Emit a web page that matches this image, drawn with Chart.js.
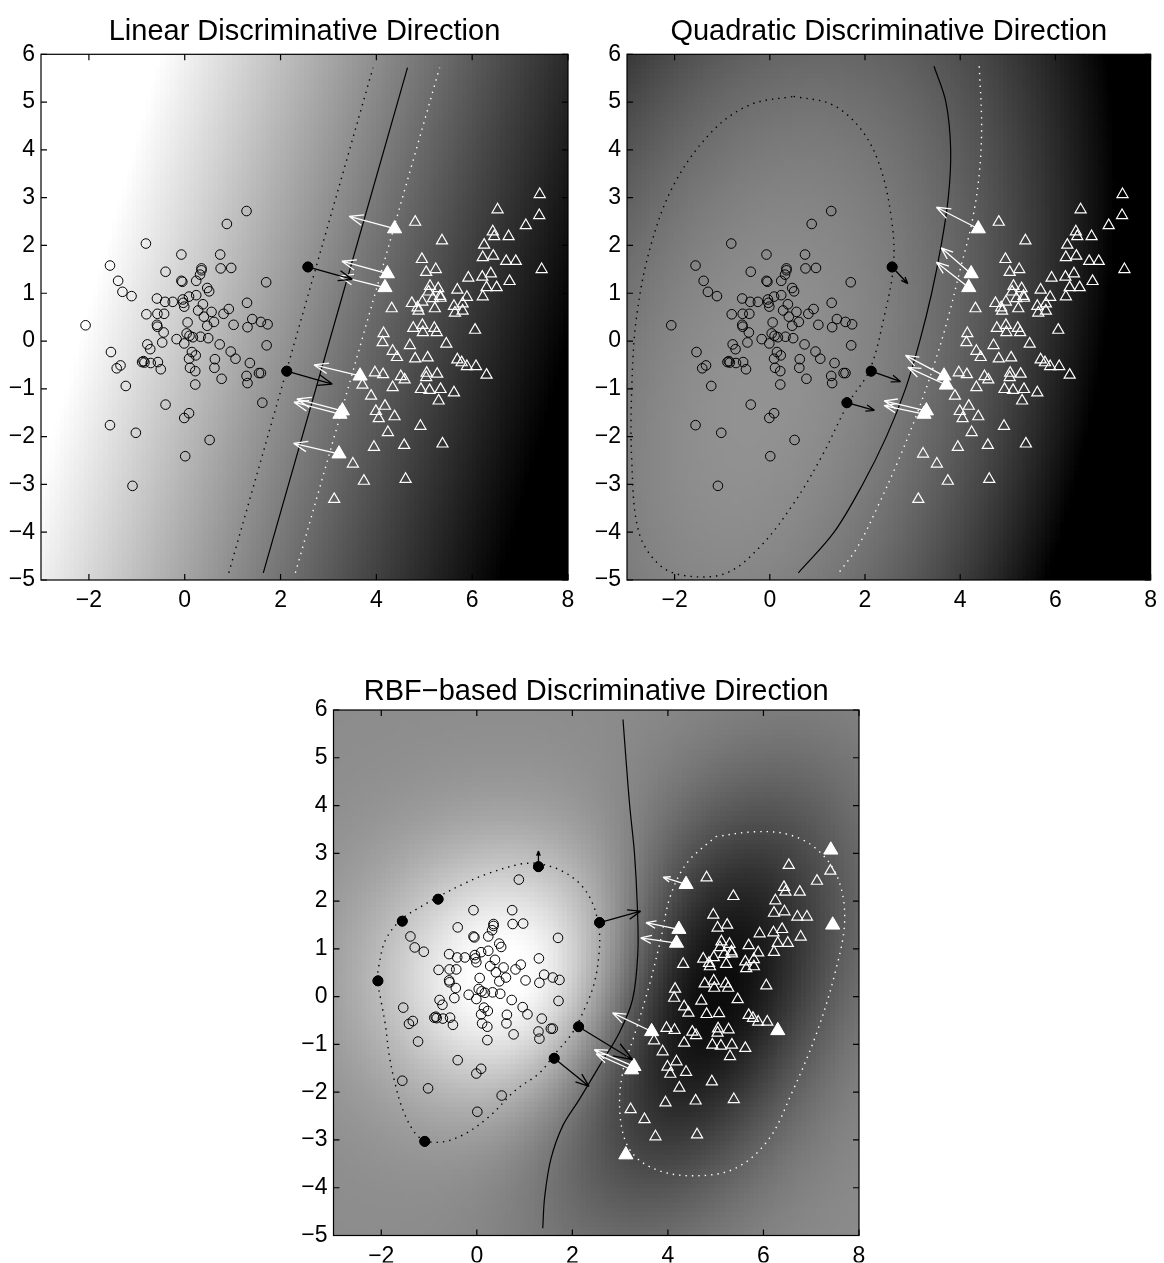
<!DOCTYPE html>
<html>
<head>
<meta charset="utf-8">
<script src="https://cdn.jsdelivr.net/npm/chart.js@4.4.0/dist/chart.umd.min.js"></script>
<style>
  html, body { margin: 0; padding: 0; background: #fff; }
  #page { position: relative; width: 1164px; height: 1263px; }
  #page canvas { position: absolute; left: 0; top: 0; }
</style>
</head>
<body>
<div id="page">
  <canvas id="linearChart" width="1164" height="1263"></canvas>
  <canvas id="quadChart" width="1164" height="1263"></canvas>
  <canvas id="rbfChart" width="1164" height="1263"></canvas>
</div>
<script>
// ===================== DATA =====================
const xTicks = [-2, 0, 2, 4, 6, 8];
const yTicks = [-5, -4, -3, -2, -1, 0, 1, 2, 3, 4, 5, 6];

// class 1 (circles)
const circles = [
  [1.29,2.72],[0.88,2.45],[-0.81,2.04],[-0.07,1.81],[0.74,1.81],[-1.56,1.58],[-0.40,1.45],[0.35,1.52],
  [0.35,1.48],[0.32,1.39],[0.75,1.52],[0.97,1.53],[-0.07,1.26],[-0.05,1.24],[0.24,1.26],[-1.39,1.26],
  [1.70,1.23],[-1.30,1.03],[-1.11,0.94],[0.47,1.11],[0.51,1.04],[-0.58,0.89],[-0.41,0.82],[-0.25,0.82],
  [-0.04,0.87],[-0.03,0.80],[-0.01,0.72],[0.09,0.93],[0.24,0.96],[0.38,0.77],[1.30,0.80],[-0.80,0.56],
  [-0.57,0.57],[-0.43,0.57],[0.28,0.64],[0.56,0.61],[0.92,0.67],[0.81,0.57],[0.40,0.51],[0.61,0.40],
  [0.47,0.32],[0.06,0.39],[1.02,0.34],[1.31,0.29],[1.41,0.46],[1.59,0.40],[1.73,0.35],[-2.07,0.33],
  [-0.58,0.34],[-0.57,0.30],[-0.44,0.18],[-0.17,0.04],[0.04,0.16],[0.10,0.11],[0.17,0.08],[0.33,0.09],
  [0.49,0.06],[-0.01,-0.05],[-0.47,-0.03],[-0.78,-0.07],[-0.72,-0.17],[0.73,-0.07],[1.71,-0.09],[-1.54,-0.23],
  [0.15,-0.23],[0.23,-0.30],[0.09,-0.37],[0.96,-0.22],[1.06,-0.37],[0.63,-0.38],[0.62,-0.56],[1.36,-0.46],
  [-0.86,-0.42],[-0.89,-0.44],[-0.71,-0.46],[-0.84,-0.45],[-0.56,-0.44],[-0.50,-0.59],[-1.34,-0.51],[-1.42,-0.57],
  [0.11,-0.56],[0.22,-0.63],[1.55,-0.67],[1.59,-0.67],[1.29,-0.73],[1.31,-0.88],[0.77,-0.79],[0.22,-0.91],
  [-1.23,-0.94],[-0.40,-1.33],[1.62,-1.29],[0.09,-1.51],[-0.01,-1.61],[-1.56,-1.76],[-1.02,-1.92],[0.52,-2.07],
  [0.01,-2.41],[-1.09,-3.03],[2.57,1.55],[2.13,-0.63]
];

// class 2 (triangles)
const triangles = [
  [4.81,2.49],[7.41,3.07],[6.53,2.75],[7.40,2.63],[7.12,2.42],[6.43,2.29],[6.46,2.19],[6.76,2.19],
  [5.37,2.10],[6.25,2.01],[4.95,1.71],[6.22,1.75],[6.44,1.78],[6.71,1.67],[6.91,1.67],[5.24,1.50],
  [5.04,1.44],[7.45,1.50],[5.92,1.32],[6.21,1.34],[6.39,1.41],[6.78,1.25],[6.30,1.12],[6.51,1.12],
  [5.12,1.15],[5.29,1.10],[5.69,1.07],[5.09,1.03],[5.33,0.94],[5.18,0.89],[5.89,0.92],[6.22,0.93],
  [4.74,0.79],[4.96,0.82],[4.86,0.70],[4.88,0.63],[4.32,0.68],[5.22,0.68],[5.62,0.73],[5.80,0.78],
  [5.64,0.59],[5.80,0.63],[5.34,0.90],[4.77,0.27],[4.96,0.33],[4.97,0.18],[5.21,0.27],[5.26,0.18],
  [6.06,0.23],[4.15,0.16],[4.13,-0.03],[4.70,-0.09],[5.46,-0.06],[4.34,-0.21],[4.43,-0.34],[4.81,-0.37],
  [5.07,-0.35],[5.69,-0.39],[5.78,-0.45],[5.89,-0.53],[6.08,-0.53],[3.97,-0.66],[4.14,-0.70],[4.51,-0.74],
  [4.59,-0.81],[5.05,-0.67],[5.04,-0.76],[5.27,-0.69],[6.30,-0.71],[3.71,-0.92],[4.34,-0.97],[4.93,-1.01],
  [5.11,-1.03],[5.34,-1.01],[5.62,-1.08],[3.89,-1.15],[5.30,-1.25],[4.18,-1.36],[3.99,-1.47],[4.05,-1.62],
  [4.38,-1.58],[4.92,-1.78],[4.24,-1.91],[3.95,-2.22],[4.58,-2.18],[5.38,-2.15],[3.51,-2.57],[3.74,-2.93],
  [4.61,-2.89],[3.12,-3.31],[4.38,2.35],[4.23,1.41],[4.18,1.12],[3.66,-0.73],[3.29,-1.46],[3.24,-1.53],
  [3.22,-2.36]
];

// ---- linear panel ----
const linShade = [200, -25, 7];               // gray = a + b*x + c*y
const linSolid = [[1.64,-4.85],[4.65,5.72]];
const linInner = [[0.92,-4.85],[3.93,5.72]];
const linOuter = [[2.31,-4.85],[5.32,5.72]];
const linFilledCirc = [[2.57,1.55],[2.13,-0.63]];
const linFilledTri = [[4.38,2.35],[4.23,1.41],[4.18,1.12],[3.66,-0.73],[3.29,-1.46],[3.24,-1.53],[3.22,-2.36]];
const linBlackArrows = [[2.57,1.55,3.50,1.29],[2.13,-0.63,3.08,-0.90]];
const linWhiteArrows = [[4.38,2.35,3.43,2.61],[4.23,1.41,3.28,1.67],[4.18,1.12,3.22,1.36],[3.66,-0.73,2.70,-0.50],
  [3.29,-1.46,2.34,-1.21],[3.24,-1.53,2.28,-1.28],[3.22,-2.36,2.27,-2.14]];

// ---- quadratic panel ----
const quadShade = [145, -0.33, -1.95, -2.89, -0.925, 1.1];  // a + bx + cy + dx^2 + ey^2 + fxy
const quadSolid = [[3.45,5.75],[3.7,5.0],[3.8,4.0],[3.75,3.0],[3.6,2.0],[3.4,1.0],[3.15,0],[2.85,-1.0],
  [2.45,-2.0],[1.95,-3.0],[1.35,-4.0],[0.6,-4.85]];
const quadOuter = [[4.4,5.75],[4.45,4.5],[4.4,3.5],[4.25,2.5],[4.0,1.5],[3.75,0.5],[3.45,-0.5],[3.1,-1.5],
  [2.7,-2.5],[2.25,-3.5],[1.85,-4.3],[1.45,-4.85]];
const quadInner = [[0.5,5.12],[1.3,4.95],[1.9,4.45],[2.3,3.7],[2.55,2.6],[2.6,1.6],[2.4,0.5],[2.1,-0.6],[1.65,-1.3],
  [1.1,-2.4],[0.5,-3.4],[-0.2,-4.3],[-0.9,-4.85],[-1.7,-4.92],[-2.3,-4.7],[-2.75,-4.0],[-2.9,-2.5],
  [-2.9,-1.0],[-2.8,0.5],[-2.5,2.0],[-2.0,3.3],[-1.2,4.4],[-0.4,4.95],[0.5,5.12]];
const quadFilledCirc = [[2.57,1.55],[2.13,-0.63],[1.62,-1.29]];
const quadFilledTri = [[4.38,2.35],[4.23,1.41],[4.18,1.12],[3.66,-0.73],[3.71,-0.92],[3.29,-1.46],[3.24,-1.53]];
const quadBlackArrows = [[2.57,1.55,2.9,1.2],[2.13,-0.63,2.75,-0.85],[1.62,-1.29,2.2,-1.45]];
const quadWhiteArrows = [[4.38,2.35,3.5,2.8],[4.23,1.41,3.6,1.95],[4.18,1.12,3.5,1.65],[3.66,-0.73,2.85,-0.3],
  [3.71,-0.92,2.9,-0.55],[3.29,-1.46,2.4,-1.25],[3.24,-1.53,2.4,-1.35]];

// ---- RBF panel ----
const rbfBase = 140;
const rbfBlobs = [[0.8,0.4,2.0,1.9,0,130],[4.7,-0.1,3.1,1.7,65,-145]]; // cx, cy, sMajor, sMinor, angle, amp
const rbfSolid = [[3.06,5.8],[3.12,5.0],[3.2,4.0],[3.3,3.0],[3.36,1.9],[3.37,0.9],[3.26,-0.06],[2.98,-0.76],
  [2.56,-1.46],[2.14,-2.16],[1.8,-2.7],[1.55,-3.4],[1.42,-4.2],[1.38,-4.85]];
const rbfInner = [[1.27,2.80],[1.72,2.66],[2.14,2.38],[2.42,1.96],[2.56,1.40],[2.56,0.92],[2.46,0.29],[2.28,-0.20],
  [2.00,-0.76],[1.65,-1.18],[1.31,-1.60],[0.82,-1.95],[0.26,-2.51],[-0.3,-2.9],[-0.8,-3.05],[-1.2,-2.95],
  [-1.52,-2.44],[-1.73,-1.74],[-1.84,-1.18],[-1.91,-0.62],[-2.01,-0.06],[-2.08,0.35],[-2.04,0.70],[-1.91,1.19],
  [-1.59,1.61],[-1.21,1.86],[-0.79,2.10],[-0.30,2.35],[0.19,2.56],[0.89,2.77],[1.27,2.80]];
const rbfOuter = [[5.0,3.35],[5.8,3.45],[6.5,3.4],[7.1,3.1],[7.55,2.5],[7.7,1.6],[7.5,0.5],[7.1,-0.8],
  [6.6,-2.0],[6.1,-3.0],[5.4,-3.6],[4.5,-3.75],[3.7,-3.6],[3.2,-3.2],[3.0,-2.5],[3.05,-1.6],[3.3,-0.8],
  [3.6,0.2],[3.85,1.2],[4.05,2.1],[4.4,2.8],[5.0,3.35]];
const rbfFilledCirc = [[-2.07,0.33],[-1.56,1.58],[-0.81,2.04],[1.29,2.72],[2.57,1.55],[2.13,-0.63],[1.62,-1.29],[-1.09,-3.03]];
const rbfFilledTri = [[4.38,2.35],[4.23,1.41],[4.18,1.12],[3.66,-0.73],[3.29,-1.46],[3.24,-1.53],[3.12,-3.31],
  [7.41,3.07],[7.45,1.50],[6.30,-0.71]];
const rbfBlackArrows = [[1.29,2.72,1.29,3.05],[2.57,1.55,3.43,1.79],[2.13,-0.63,3.26,-1.32],[1.62,-1.29,2.35,-1.88]];
const rbfWhiteArrows = [[4.38,2.35,3.9,2.5],[4.23,1.41,3.54,1.55],[4.18,1.12,3.43,1.23],[3.66,-0.73,2.84,-0.34],
  [3.29,-1.46,2.46,-1.11],[3.24,-1.53,2.5,-1.2]];

// ===================== HELPERS =====================
const FONT = "'Liberation Sans', Arial, Helvetica, sans-serif";
const toXY = pts => pts.map(p => ({ x: p[0], y: p[1] }));
const fmt = v => (v < 0 ? '\u2212' + Math.abs(v) : String(v));

function linGray(x, y) { return linShade[0] + linShade[1] * x + linShade[2] * y; }
function quadGray(x, y) {
  const c = quadShade;
  return c[0] + c[1] * x + c[2] * y + c[3] * x * x + c[4] * y * y + c[5] * x * y;
}
function rbfGray(x, y) {
  let g = rbfBase;
  rbfBlobs.forEach(b => {
    const a = b[4] * Math.PI / 180, dx = x - b[0], dy = y - b[1];
    const u = dx * Math.cos(a) + dy * Math.sin(a), v = -dx * Math.sin(a) + dy * Math.cos(a);
    g += b[5] * Math.exp(-(u * u) / (2 * b[2] * b[2]) - (v * v) / (2 * b[3] * b[3]));
  });
  return g;
}

function drawArrow(ctx, x0, y0, x1, y1) {
  const len = Math.hypot(x1 - x0, y1 - y0), ang = Math.atan2(y1 - y0, x1 - x0);
  const h = Math.max(4, len * 0.32), sp = 0.36;
  ctx.beginPath();
  ctx.moveTo(x0, y0); ctx.lineTo(x1, y1);
  ctx.moveTo(x1, y1); ctx.lineTo(x1 - h * Math.cos(ang - sp), y1 - h * Math.sin(ang - sp));
  ctx.moveTo(x1, y1); ctx.lineTo(x1 - h * Math.cos(ang + sp), y1 - h * Math.sin(ang + sp));
  ctx.stroke();
}

// background field, arrows, box with inward ticks, title
function decorPlugin(p) {
  return {
    id: 'decor',
    beforeDatasetsDraw(chart) {
      const { ctx, chartArea: a, scales: { x, y } } = chart;
      const step = 0.1;
      ctx.save();
      ctx.beginPath(); ctx.rect(a.left, a.top, a.width, a.height); ctx.clip();
      for (let i = 0; i < 110; i++) {
        const gx = -3 + i * step;
        const px0 = x.getPixelForValue(gx), px1 = x.getPixelForValue(gx + step);
        for (let j = 0; j < 110; j++) {
          const gy = -5 + j * step;
          const py0 = y.getPixelForValue(gy), py1 = y.getPixelForValue(gy + step);
          let g = Math.round(Math.max(0, Math.min(255, p.shade(gx + step / 2, gy + step / 2))));
          ctx.fillStyle = 'rgb(' + g + ',' + g + ',' + g + ')';
          ctx.fillRect(Math.floor(px0), Math.floor(py1), Math.ceil(px1 - px0) + 1, Math.ceil(py0 - py1) + 1);
        }
      }
      ctx.restore();
    },
    afterDatasetsDraw(chart) {
      const { ctx, chartArea: a, scales: { x, y } } = chart;
      ctx.save();
      ctx.beginPath(); ctx.rect(a.left, a.top, a.width, a.height); ctx.clip();
      ctx.lineWidth = 1.3;
      ctx.strokeStyle = '#fff';
      p.whiteArrows.forEach(r => drawArrow(ctx, x.getPixelForValue(r[0]), y.getPixelForValue(r[1]),
        x.getPixelForValue(r[2]), y.getPixelForValue(r[3])));
      ctx.strokeStyle = '#000';
      p.blackArrows.forEach(r => drawArrow(ctx, x.getPixelForValue(r[0]), y.getPixelForValue(r[1]),
        x.getPixelForValue(r[2]), y.getPixelForValue(r[3])));
      ctx.restore();
    },
    afterDraw(chart) {
      const { ctx, chartArea: a, scales: { x, y } } = chart;
      ctx.save();
      ctx.strokeStyle = '#000';
      ctx.lineWidth = 1.2;
      ctx.strokeRect(a.left, a.top, a.width, a.height);
      ctx.beginPath();
      xTicks.forEach(v => {
        const px = x.getPixelForValue(v);
        ctx.moveTo(px, a.bottom); ctx.lineTo(px, a.bottom - 6);
        ctx.moveTo(px, a.top); ctx.lineTo(px, a.top + 6);
      });
      yTicks.forEach(v => {
        const py = y.getPixelForValue(v);
        ctx.moveTo(a.left, py); ctx.lineTo(a.left + 6, py);
        ctx.moveTo(a.right, py); ctx.lineTo(a.right - 6, py);
      });
      ctx.stroke();
      ctx.fillStyle = '#000';
      ctx.font = '29px ' + FONT;
      ctx.textAlign = 'center';
      ctx.textBaseline = 'alphabetic';
      ctx.fillText(p.title, (a.left + a.right) / 2, p.titleY);
      ctx.restore();
    }
  };
}

function buildPanel(id, p) {
  const W = 1164, H = 1263, yAxisW = 36, xAxisH = 27;
  const lineDs = (pts, color, dash) => ({
    type: 'line', data: toXY(pts), borderColor: color, borderWidth: dash ? 1.4 : 1.2,
    borderDash: dash || [], pointRadius: 0, fill: false, tension: 0.35, order: 6
  });
  const datasets = [
    lineDs(p.solid, '#000', null),
    lineDs(p.inner, '#000', [1.4, 5]),
    lineDs(p.outer, '#fff', [1.4, 5]),
    { type: 'scatter', data: toXY(circles), pointStyle: 'circle', pointRadius: 4.8,
      pointBorderColor: '#000', pointBackgroundColor: 'rgba(0,0,0,0)', pointBorderWidth: 1, order: 5 },
    { type: 'scatter', data: toXY(triangles), pointStyle: 'triangle', pointRadius: 6.4,
      pointBorderColor: '#fff', pointBackgroundColor: 'rgba(0,0,0,0)', pointBorderWidth: 1.2, order: 4 },
    { type: 'scatter', data: toXY(p.filledCirc), pointStyle: 'circle', pointRadius: 5,
      pointBorderColor: '#000', pointBackgroundColor: '#000', pointBorderWidth: 1, order: 2 },
    { type: 'scatter', data: toXY(p.filledTri), pointStyle: 'triangle', pointRadius: 8.2,
      pointBorderColor: '#fff', pointBackgroundColor: '#fff', pointBorderWidth: 1, order: 1 }
  ];
  const tickFont = { family: FONT, size: 23 };
  return new Chart(document.getElementById(id), {
    type: 'scatter',
    data: { datasets },
    options: {
      responsive: false,
      animation: false,
      devicePixelRatio: 1,
      layout: {
        padding: {
          left: p.area[0] - yAxisW,
          right: W - p.area[1],
          top: p.area[2],
          bottom: Math.max(0, H - p.area[3] - xAxisH)
        }
      },
      plugins: { legend: { display: false }, tooltip: { enabled: false }, title: { display: false } },
      scales: {
        x: {
          type: 'linear', min: -3, max: 8,
          afterBuildTicks: s => { s.ticks = xTicks.map(v => ({ value: v })); },
          afterFit: s => { s.height = xAxisH; },
          grid: { display: false, drawTicks: false },
          border: { display: false },
          ticks: { color: '#000', font: tickFont, padding: 7, autoSkip: false, maxRotation: 0, callback: fmt }
        },
        y: {
          type: 'linear', min: -5, max: 6,
          afterBuildTicks: s => { s.ticks = yTicks.map(v => ({ value: v })); },
          afterFit: s => { s.width = yAxisW; },
          grid: { display: false, drawTicks: false },
          border: { display: false },
          ticks: { color: '#000', font: tickFont, padding: 6, autoSkip: false, callback: fmt }
        }
      }
    },
    plugins: [decorPlugin(p)]
  });
}

// ===================== CHARTS =====================
buildPanel('linearChart', {
  area: [41, 568, 54.3, 580], title: 'Linear Discriminative Direction', titleY: 39.5,
  shade: linGray, solid: linSolid, inner: linInner, outer: linOuter,
  filledCirc: linFilledCirc, filledTri: linFilledTri, blackArrows: linBlackArrows, whiteArrows: linWhiteArrows
});
buildPanel('quadChart', {
  area: [627, 1154, 54.3, 580], title: 'Quadratic Discriminative Direction', titleY: 39.5,
  shade: quadGray, solid: quadSolid, inner: quadInner, outer: quadOuter,
  filledCirc: quadFilledCirc, filledTri: quadFilledTri, blackArrows: quadBlackArrows, whiteArrows: quadWhiteArrows
});
buildPanel('rbfChart', {
  area: [333.5, 859, 710, 1235.5], title: 'RBF\u2212based Discriminative Direction', titleY: 700,
  shade: rbfGray, solid: rbfSolid, inner: rbfInner, outer: rbfOuter,
  filledCirc: rbfFilledCirc, filledTri: rbfFilledTri, blackArrows: rbfBlackArrows, whiteArrows: rbfWhiteArrows
});
</script>
</body>
</html>
